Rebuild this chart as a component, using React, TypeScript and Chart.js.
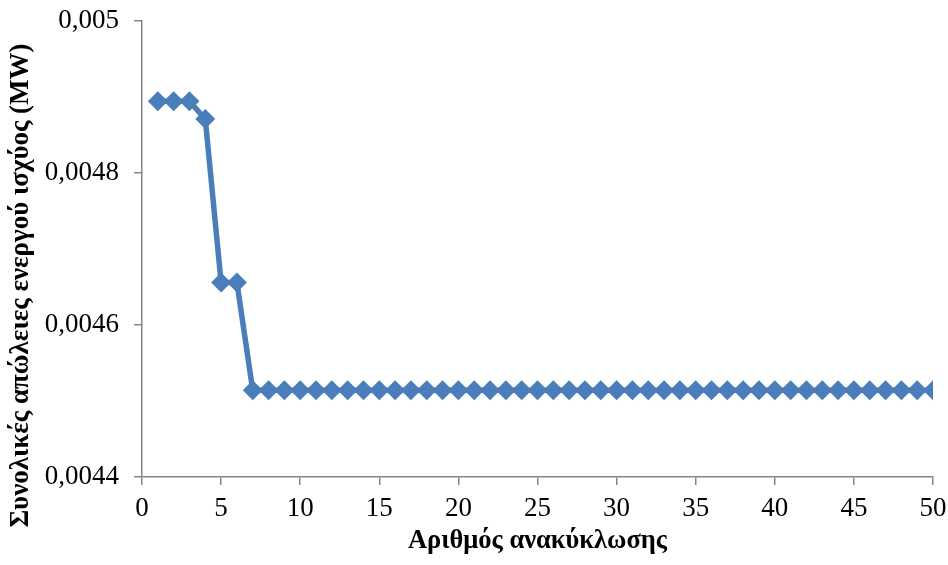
import React, { useEffect, useRef } from "react";
import { Chart, registerables } from "chart.js";

Chart.register(...registerables);

const iterations: number[] = Array.from({ length: 50 }, (_, i) => i + 1);
const losses: number[] = [
  0.0048943, 0.0048943, 0.0048943, 0.004871, 0.0046558, 0.0046558,
  0.004514, 0.004514, 0.004514, 0.004514, 0.004514, 0.004514, 0.004514,
  0.004514, 0.004514, 0.004514, 0.004514, 0.004514, 0.004514, 0.004514,
  0.004514, 0.004514, 0.004514, 0.004514, 0.004514, 0.004514, 0.004514,
  0.004514, 0.004514, 0.004514, 0.004514, 0.004514, 0.004514, 0.004514,
  0.004514, 0.004514, 0.004514, 0.004514, 0.004514, 0.004514, 0.004514,
  0.004514, 0.004514, 0.004514, 0.004514, 0.004514, 0.004514, 0.004514,
  0.004514, 0.004514,
];
const yTickValues: number[] = [0.0044, 0.0046, 0.0048, 0.005];
const yTickLabels: string[] = ["0,0044", "0,0046", "0,0048", "0,005"];
const xTitle = "Αριθμός ανακύκλωσης";
const yTitle = "Συνολικές απώλειες ενεργού ισχύος (MW)";

const FONT = "Liberation Serif";
const AXIS = "#868686";
const BLUE = "#4A7EBB";

// Draws the vertical axis title, centred a little below the plot's middle as in the reference.
const yTitlePlugin = {
  id: "yTitleLower",
  afterDraw(chart: any) {
    const ctx = chart.ctx as CanvasRenderingContext2D;
    const area = chart.chartArea;
    ctx.save();
    ctx.font = `bold 27px '${FONT}'`;
    ctx.fillStyle = "#000";
    ctx.textAlign = "center";
    ctx.textBaseline = "middle";
    ctx.translate(21, area.bottom - (area.bottom - area.top) * 0.42);
    ctx.rotate(-Math.PI / 2);
    ctx.fillText(yTitle, 0, 0);
    ctx.restore();
  },
};

export default function App() {
  const ref = useRef<HTMLCanvasElement | null>(null);
  useEffect(() => {
    let chart: Chart | null = null;
    let cancelled = false;
    const build = () => {
      if (cancelled || !ref.current) return;
      chart = new Chart(ref.current, {
        type: "line",
        data: {
          datasets: [
            {
              data: iterations.map((x, i) => ({ x, y: losses[i] })),
              borderColor: BLUE,
              backgroundColor: BLUE,
              borderWidth: 5.5,
              pointStyle: "rectRot",
              pointRadius: 10,
              pointBorderWidth: 0,
              pointBackgroundColor: BLUE,
              tension: 0,
            },
          ],
        },
        plugins: [yTitlePlugin],
        options: {
          animation: false,
          responsive: false,
          layout: { padding: { top: 21, right: 15, left: 0, bottom: 0 } },
          plugins: { legend: { display: false }, tooltip: { enabled: false } },
          scales: {
            x: {
              type: "linear",
              min: 0,
              max: 50,
              ticks: {
                stepSize: 5,
                color: "#000",
                font: { family: FONT, size: 27 },
                padding: 8,
                maxRotation: 0,
              },
              grid: {
                display: true,
                drawOnChartArea: false,
                drawTicks: true,
                tickLength: 8,
                color: AXIS,
                lineWidth: 1.5,
              },
              border: { display: true, color: AXIS, width: 1.5 },
              title: {
                display: true,
                text: xTitle,
                color: "#000",
                font: { family: FONT, size: 26.5, weight: "bold" },
                padding: { top: 0, bottom: 8 },
              },
              afterFit: (scale: any) => {
                scale.height = 88;
                scale.paddingLeft = 0;
                scale.paddingRight = 0;
              },
            },
            y: {
              type: "linear",
              min: 0.0044,
              max: 0.005,
              afterBuildTicks: (scale: any) => {
                scale.ticks = yTickValues.map((v) => ({ value: v }));
              },
              ticks: {
                color: "#000",
                font: { family: FONT, size: 27 },
                padding: 15,
                callback: (v: any) => {
                  const idx = yTickValues.findIndex((t) => Math.abs(t - Number(v)) < 1e-9);
                  return idx >= 0 ? yTickLabels[idx] : "";
                },
              },
              grid: {
                display: true,
                drawOnChartArea: false,
                drawTicks: true,
                tickLength: 8,
                color: AXIS,
                lineWidth: 1.5,
              },
              border: { display: true, color: AXIS, width: 1.5 },
              title: { display: false },
              afterFit: (scale: any) => {
                scale.width = 142;
                scale.paddingTop = 0;
                scale.paddingBottom = 0;
              },
            },
          },
        },
      });
    };
    const fonts = (document as any).fonts;
    if (fonts && fonts.load) {
      Promise.all([
        fonts.load("27px 'Liberation Serif'"),
        fonts.load("bold 27px 'Liberation Serif'"),
      ]).then(build, build);
    } else {
      build();
    }
    return () => {
      cancelled = true;
      if (chart) chart.destroy();
    };
  }, []);
  return (
    <div style={{ position: "fixed", left: 0, top: 0, width: 948, height: 565, background: "#fff" }}>
      <canvas ref={ref} width={948} height={565} style={{ width: 948, height: 565, display: "block" }} />
    </div>
  );
}
